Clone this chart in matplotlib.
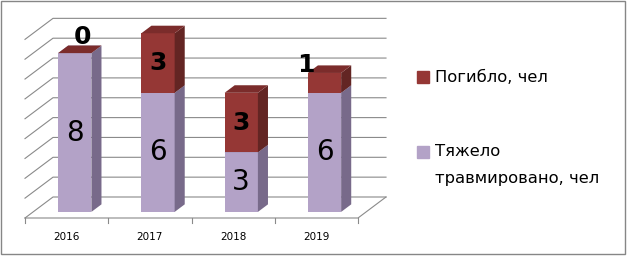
import matplotlib.pyplot as plt
from matplotlib.patches import Rectangle

years = ['2016', '2017', '2018', '2019']
injured = [8, 6, 3, 6]
killed = [0, 3, 3, 1]
series_names = ['Тяжело\nтравмировано, чел', 'Погибло, чел']

W, H = 628, 256
fig = plt.figure(figsize=(W / 100, H / 100), dpi=100)
ax = fig.add_axes([0, 0, 1, 1])

# pixel geometry of the fake 3d box
cat_px = 83.25
val_px = 19.85
x0_px, floor_px = 25, 218
ax.set_xlim(-0.5 - x0_px / cat_px, -0.5 + (W - x0_px) / cat_px)
ax.set_ylim((floor_px - H) / val_px, floor_px / val_px)
ax.axis('off')

DX = 28 / cat_px   # full depth shift, category units
DY = 21 / val_px   # full depth shift, value units
vmax = 9
n = len(years)


def P(x, v, d):
    return (x + d * DX, v + d * DY)


def poly(pts, color, z):
    xs, ys = zip(*pts)
    ax.fill(xs, ys, color=color, lw=0, zorder=z)


grid_c = '#8a8a8a'
for v in range(vmax + 1):
    pts = [P(-0.5, v, 0), P(-0.5, v, 1), P(n - 0.5, v, 1)]
    ax.plot(*zip(*pts), color=grid_c, lw=0.8, zorder=1)
# floor front edge, right edge, ticks
pts = [P(-0.5, 0, 0), P(n - 0.5, 0, 0), P(n - 0.5, 0, 1)]
ax.plot(*zip(*pts), color=grid_c, lw=0.8, zorder=1)
for i in range(n + 1):
    ax.plot([i - 0.5, i - 0.5], [0, -5 / val_px], color=grid_c, lw=0.8, zorder=1)

for i, y in enumerate(years):
    ax.text(i, -19 / val_px, y, ha='center', va='center', fontsize=7.5,
            family='DejaVu Sans')

cols = [('#B3A2C7', '#786A8A', '#9C8DB0'),
        ('#953735', '#632523', '#7B2C2B')]
bw, d0, d1 = 0.2, 0.29, 0.65
num_font = ['Liberation Sans Narrow', 'DejaVu Sans']
small_offsets = {0: (8, 16), 3: (-19, 8)}

for i in range(n):
    base = 0
    for s, vals in enumerate([injured, killed]):
        h = vals[i]
        top = base + h
        fc, sc, tc = cols[s]
        xa, xb = i - bw, i + bw
        poly([P(xa, base, d0), P(xb, base, d0), P(xb, top, d0), P(xa, top, d0)], fc, 3 + s)
        poly([P(xb, base, d0), P(xb, base, d1), P(xb, top, d1), P(xb, top, d0)], sc, 3 + s)
        poly([P(xa, top, d0), P(xb, top, d0), P(xb, top, d1), P(xa, top, d1)], tc, 3 + s)
        cx, cy = P(i, base + h / 2, d0)
        if s == 0:
            ax.text(cx, cy, str(h), ha='center', va='center', fontsize=20,
                    family=num_font, zorder=10)
        elif h >= 2:
            ax.text(cx, cy, str(h), ha='center', va='center', fontsize=18,
                    fontweight='bold', family=num_font, zorder=10)
        else:
            tx, ty = P(i, top, d0)
            ax.annotate(str(h), (tx, ty), xytext=small_offsets[i],
                        textcoords='offset pixels', ha='center', va='center',
                        fontsize=18, fontweight='bold', family=num_font, zorder=10)
        base = top

# legend drawn by hand in pixel positions
def fx(px):
    return px / W


def fy(py):
    return 1 - py / H


sq = 12
fs = 11.8
fig.patches.append(Rectangle((fx(417), fy(77 + sq / 2)), sq / W, sq / H,
                             transform=fig.transFigure, color=cols[1][0]))
fig.text(fx(435), fy(77), series_names[1], ha='left', va='center', fontsize=fs)
fig.patches.append(Rectangle((fx(417), fy(152 + sq / 2)), sq / W, sq / H,
                             transform=fig.transFigure, color=cols[0][0]))
fig.text(fx(435), fy(152), 'Тяжело', ha='left', va='center', fontsize=fs)
fig.text(fx(435), fy(178), 'травмировано, чел', ha='left', va='center', fontsize=fs)

# outer frame
fig.patches.append(Rectangle((fx(1), fy(254)), 624 / W, 253 / H, transform=fig.transFigure,
                             fill=False, edgecolor='#868686', lw=1))

fig.savefig('out.png', dpi=100)
